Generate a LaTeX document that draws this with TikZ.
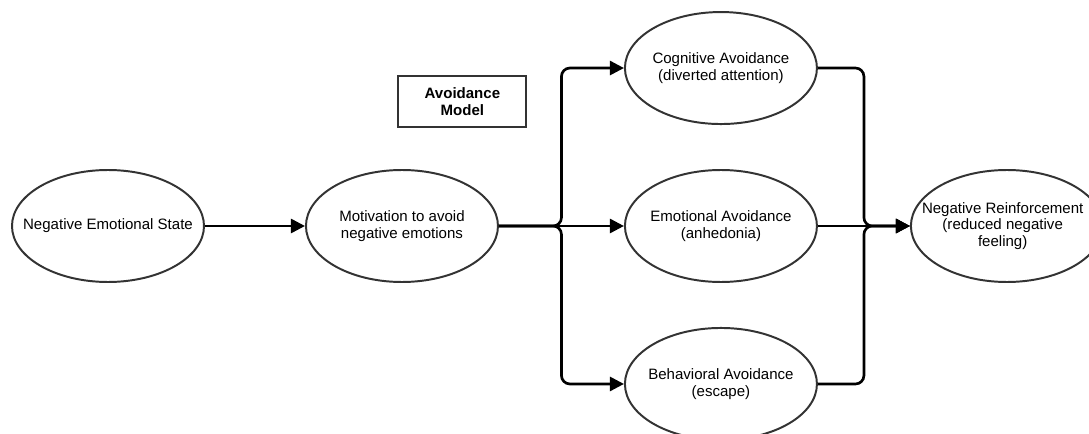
\documentclass[tikz,border=0pt]{standalone}
\usepackage{fontspec}
\setmainfont{Liberation Sans}
\usetikzlibrary{positioning, shapes.geometric, arrows.meta, calc}

\begin{document}
\begin{tikzpicture}[
    % Define a custom style for the stages
    oval/.style={
        draw=black!80,
        ellipse,
        line width=1.4pt,
        fill=white,
        minimum width=4.8cm,
        minimum height=2.8cm
    },
    txt/.style={align=center, font=\fontsize{10.7}{11.8}\selectfont},
    titlebox/.style={
        draw=black!80,
        line width=1.4pt,
        minimum width=3.2cm,
        minimum height=1.27cm,
        align=center,
        font=\fontsize{10.7}{11.8}\selectfont\bfseries
    },
    link/.style={line width=1.9pt, rounded corners=6pt, -{Triangle[length=10pt,width=10pt]}}
]
\useasboundingbox (-2.7,5.65) rectangle (24.525,-5.175);

% Define nodes using the custom style
\node[oval, label={[txt]center:Negative Emotional State}] (negstate) at (0,0) {};
\node[oval, right=2.5cm of negstate, label={[txt]center:{Motivation to avoid\\negative emotions}}] (motiv) {};
\node[oval, right=3.125cm of motiv, label={[txt]center:{Emotional Avoidance\\(anhedonia)}}] (emo) {};
\node[oval, above=1.1cm of emo, label={[txt]center:{Cognitive Avoidance\\(diverted attention)}}] (cog) {};
\node[oval, below=1.1cm of emo, label={[txt]center:{Behavioral Avoidance\\(escape)}}] (beh) {};
\node[oval, right=2.3cm of emo, label={[txt, xshift=-3pt]center:{Negative Reinforcement\\(reduced negative\\feeling)}}] (reinf) {};
\node[titlebox] (title) at (8.86,3.11) {Avoidance\\Model};

% Split and merge points
\coordinate (split) at ($(motiv.east)!0.5!(emo.west)$);
\coordinate (merge) at ($(emo.east)!0.5!(reinf.west)$);

% Edges
\draw[link] (negstate) -- (motiv);
\draw[link] (motiv.east) -- (split) |- (cog.west);
\draw[link] (motiv.east) -- (emo.west);
\draw[link] (motiv.east) -- (split) |- (beh.west);
\draw[link] (cog.east) -| (merge) -- (reinf.west);
\draw[link] (emo.east) -- (reinf.west);
\draw[link] (beh.east) -| (merge) -- (reinf.west);

\end{tikzpicture}
\end{document}
